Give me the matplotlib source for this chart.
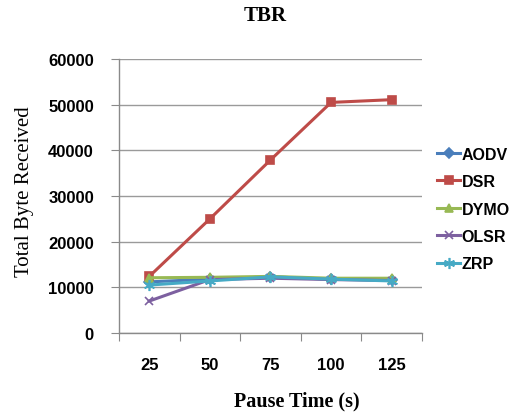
import matplotlib
matplotlib.use("Agg")
import matplotlib.pyplot as plt
import numpy as np

pause_times = ["25", "50", "75", "100", "125"]
aodv = [11200, 11800, 12300, 11800, 11600]
dsr = [12400, 25000, 37900, 50500, 51100]
dymo = [12100, 12200, 12400, 12000, 12000]
olsr = [7000, 11700, 12000, 11700, 11500]
zrp = [10500, 11400, 12300, 11800, 11400]

y_ticks = [0, 10000, 20000, 30000, 40000, 50000, 60000]

series = [
    ("AODV", aodv, "#4A7EBB", "D", 5),
    ("DSR", dsr, "#BE4B48", "s", 6),
    ("DYMO", dymo, "#98B954", "^", 6),
    ("OLSR", olsr, "#7D60A0", "x", 6),
    ("ZRP", zrp, "#46AAC5", (6, 2, 0), 8),
]

fig = plt.figure(figsize=(5.16, 4.14), dpi=100)
ax = fig.add_axes([0.2306, 0.1932, 0.5872, 0.6618])

x = np.arange(1, len(pause_times) + 1)
for name, vals, color, marker, ms in series:
    ax.plot(x, vals, color=color, lw=2.2, marker=marker, markersize=ms,
            markeredgecolor=color, markerfacecolor=color, markeredgewidth=1.2,
            label=name)

tick_font = {"family": "Liberation Sans", "weight": "bold", "size": 12}

ax.set_xlim(0.5, len(pause_times) + 0.5)
ax.set_ylim(0, 60000)
ax.set_yticks(y_ticks)
ax.set_yticklabels([str(v) for v in y_ticks], fontdict=tick_font)
ax.yaxis.grid(True, color="#9a9a9a", lw=1.0)
ax.set_axisbelow(True)

# boundary ticks between categories, labels centred under each category
ax.set_xticks(np.arange(0.5, len(pause_times) + 1, 1.0))
ax.set_xticklabels([])
ax.set_xticks(x, minor=True)
ax.set_xticklabels(pause_times, minor=True, fontdict=tick_font)
ax.tick_params(axis="x", which="minor", length=0, pad=17)
ax.tick_params(axis="x", which="major", length=6, color="#8a8a8a", direction="out")
ax.tick_params(axis="y", length=6, color="#8a8a8a", direction="out", pad=12)

for side in ("top", "right"):
    ax.spines[side].set_visible(False)
for side in ("left", "bottom"):
    ax.spines[side].set_color("#8a8a8a")
    ax.spines[side].set_linewidth(1.0)

fig.text(0.513, 0.961, "TBR", ha="center", va="center", fontfamily="Liberation Serif",
         fontweight="bold", fontsize=15)
fig.text(0.575, 0.031, "Pause Time (s)", ha="center", va="center",
         fontfamily="Liberation Serif", fontweight="bold", fontsize=14.5)
fig.text(0.047, 0.536, "Total Byte Received", ha="center", va="center", rotation=90,
         fontfamily="Liberation Serif", fontsize=15)

leg = ax.legend(loc="center left", bbox_to_anchor=(1.03, 0.4526), frameon=False,
                prop={"family": "Liberation Sans", "weight": "bold", "size": 11.5},
                handlelength=1.4, handletextpad=0.1, labelspacing=0.78,
                borderaxespad=0)

fig.savefig("out.png", dpi=100, facecolor="white")
